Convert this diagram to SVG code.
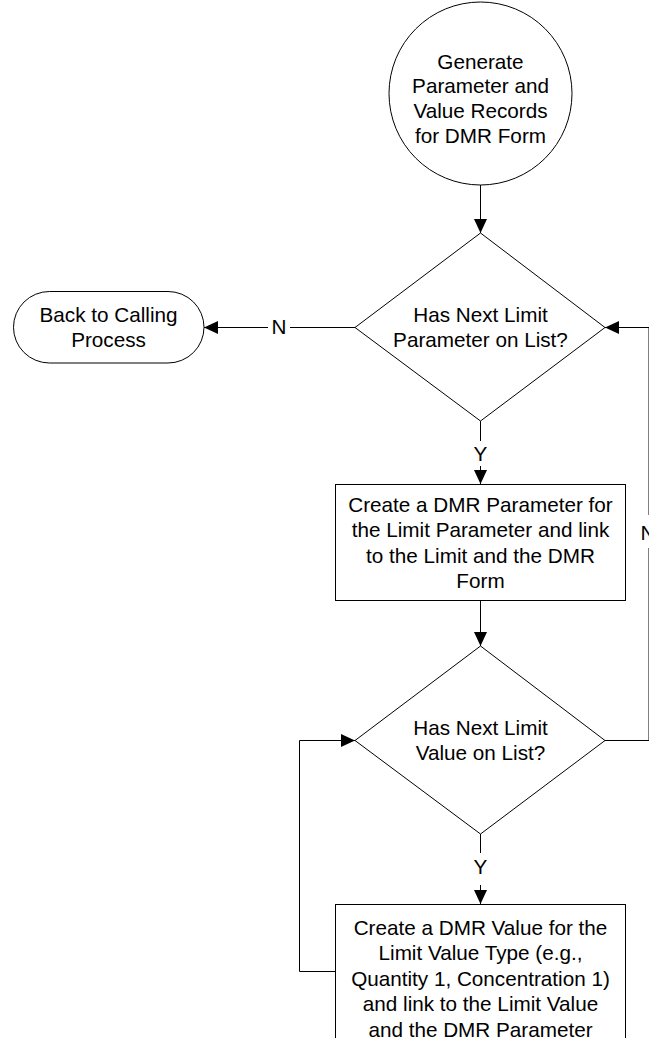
<svg xmlns="http://www.w3.org/2000/svg" width="649" height="1038" viewBox="0 0 649 1038">
  <style>
    .shape { fill: #ffffff; stroke: #000000; stroke-width: 1; }
    .conn { fill: none; stroke: #000000; stroke-width: 1; }
    .txt { font-family: "Liberation Sans", Arial, sans-serif; font-size: 20.7px; fill: #000000; text-anchor: middle; }
    .bg { fill: #ffffff; stroke: none; }
  </style>
  <defs>
    <marker id="arrow" markerUnits="userSpaceOnUse" markerWidth="14" markerHeight="13" refX="14" refY="6.5" orient="auto">
      <path d="M0,0 L14,6.5 L0,13 Z" fill="#000000"/>
    </marker>
  </defs>

  <rect width="649" height="1038" fill="#ffffff"/>

  <!-- connectors -->
  <g id="connectors">
    <path class="conn" d="M480.5,185 V233" marker-end="url(#arrow)"/>

    <path class="conn" d="M355,327.5 H204" marker-end="url(#arrow)"/>
    <rect class="bg" x="268" y="316" width="22" height="22"/>
    <text class="txt" x="279" y="334.4">N</text>

    <path class="conn" d="M480.5,421 V484" marker-end="url(#arrow)"/>
    <rect class="bg" x="470" y="441" width="21" height="25"/>
    <text class="txt" x="480.5" y="461">Y</text>

    <path class="conn" d="M480.5,601 V646" marker-end="url(#arrow)"/>

    <path class="conn" d="M605,740.5 H649 V327.5 H605" marker-end="url(#arrow)"/>
    <rect class="bg" x="638" y="515" width="11" height="33"/>
    <text class="txt" x="648" y="540.4">N</text>

    <path class="conn" d="M480.5,834 V904" marker-end="url(#arrow)"/>
    <rect class="bg" x="470" y="853" width="21" height="32"/>
    <text class="txt" x="480.5" y="874.4">Y</text>

    <path class="conn" d="M335,971.5 H299.5 V740.5 H355" marker-end="url(#arrow)"/>
  </g>

  <!-- start: generate records -->
  <g id="start">
    <circle class="shape" cx="480.5" cy="93.5" r="91.5"/>
    <text class="txt" x="480.5" y="68.5">Generate</text>
    <text class="txt" x="480.5" y="93.3">Parameter and</text>
    <text class="txt" x="480.5" y="118">Value Records</text>
    <text class="txt" x="480.5" y="142.7">for DMR Form</text>
  </g>

  <!-- return terminal -->
  <g id="back-to-calling">
    <rect class="shape" x="13.5" y="291.5" width="190.5" height="71.5" rx="36" ry="36"/>
    <text class="txt" x="108.5" y="321.6">Back to Calling</text>
    <text class="txt" x="108.5" y="346.6">Process</text>
  </g>

  <!-- decision: next limit parameter -->
  <g id="has-next-parameter">
    <polygon class="shape" points="480.5,233 605,327.5 480.5,421 355,327.5"/>
    <text class="txt" x="480.5" y="321.6">Has Next Limit</text>
    <text class="txt" x="480.5" y="346.6">Parameter on List?</text>
  </g>

  <!-- create DMR parameter -->
  <g id="create-parameter">
    <rect class="shape" x="335.5" y="484.5" width="290" height="116"/>
    <text class="txt" x="480.5" y="511.5">Create a DMR Parameter for</text>
    <text class="txt" x="480.5" y="537">the Limit Parameter and link</text>
    <text class="txt" x="480.5" y="562.5">to the Limit and the DMR</text>
    <text class="txt" x="480.5" y="588">Form</text>
  </g>

  <!-- decision: next limit value -->
  <g id="has-next-value">
    <polygon class="shape" points="480.5,646 605,740.5 480.5,834 355,740.5"/>
    <text class="txt" x="480.5" y="734.6">Has Next Limit</text>
    <text class="txt" x="480.5" y="760">Value on List?</text>
  </g>

  <!-- create DMR value -->
  <g id="create-value">
    <rect class="shape" x="335.5" y="904.5" width="290" height="140"/>
    <text class="txt" x="480.5" y="934.5">Create a DMR Value for the</text>
    <text class="txt" x="480.5" y="960">Limit Value Type (e.g.,</text>
    <text class="txt" x="480.5" y="985.5">Quantity 1, Concentration 1)</text>
    <text class="txt" x="480.5" y="1011">and link to the Limit Value</text>
    <text class="txt" x="480.5" y="1036.5">and the DMR Parameter</text>
  </g>
</svg>
